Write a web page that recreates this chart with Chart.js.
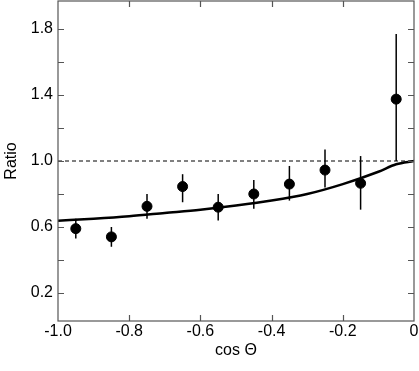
<!DOCTYPE html>
<html>
<head>
<meta charset="utf-8">
<script src="https://cdn.jsdelivr.net/npm/chart.js@4/dist/chart.umd.min.js"></script>
<style>
  html, body { margin: 0; padding: 0; background: #fff; }
  #wrap { width: 419px; height: 371px; }
</style>
</head>
<body>
<div id="wrap"><canvas id="ratioChart"></canvas></div>
<script>
// Measured ratio vs cos(Theta)
const cosTheta = [-0.95, -0.85, -0.75, -0.65, -0.55, -0.45, -0.35, -0.25, -0.15, -0.05];
const ratio    = [0.59, 0.54, 0.725, 0.845, 0.72, 0.80, 0.86, 0.945, 0.865, 1.375];
const errLow   = [0.53, 0.48, 0.65, 0.75, 0.64, 0.71, 0.76, 0.84, 0.705, 1.00];
const errHigh  = [0.65, 0.60, 0.80, 0.92, 0.80, 0.885, 0.97, 1.07, 1.03, 1.77];

// Theory curve
const curveX = [-1.0, -0.9, -0.8, -0.7, -0.6, -0.5, -0.4, -0.3, -0.2, -0.1, -0.05, 0];
const curveY = [0.638, 0.650, 0.665, 0.685, 0.705, 0.73, 0.76, 0.80, 0.86, 0.935, 0.98, 1.0];

// Reference line
const refX = [-1.0, 0];
const refY = [1.0, 1.0];

// Ticks
const xTicks = [-1.0, -0.8, -0.6, -0.4, -0.2, 0];
const xTickLabels = ["-1.0", "-0.8", "-0.6", "-0.4", "-0.2", "0"];
const yTicks = [0.2, 0.4, 0.6, 0.8, 1.0, 1.2, 1.4, 1.6, 1.8];
const yTickLabels = ["0.2", "", "0.6", "", "1.0", "", "1.4", "", "1.8"];

const FONT = { family: "'Liberation Sans', Arial, Helvetica, sans-serif", size: 16 };
const FRAME = "#555";

const errorBars = {
	id: "errorBars",
	beforeDatasetsDraw(chart) {
		const { ctx, scales: { x, y } } = chart;
		ctx.save();
		ctx.strokeStyle = "#000";
		ctx.lineWidth = 1.5;
		cosTheta.forEach((c, i) => {
			const px = x.getPixelForValue(c);
			ctx.beginPath();
			ctx.moveTo(px, y.getPixelForValue(errLow[i]));
			ctx.lineTo(px, y.getPixelForValue(errHigh[i]));
			ctx.stroke();
		});
		ctx.restore();
	},
};

// frame and inward tick marks on all four sides
const frame = {
	id: "frame",
	afterDraw(chart) {
		const { ctx, chartArea: a, scales: { x, y } } = chart;
		ctx.save();
		ctx.strokeStyle = FRAME;
		ctx.lineWidth = 1.2;
		ctx.strokeRect(a.left, a.top, a.right - a.left, a.bottom - a.top);
		const len = 6;
		ctx.beginPath();
		xTicks.slice(1, -1).forEach((v) => {
			const px = Math.round(x.getPixelForValue(v)) + 0.5;
			ctx.moveTo(px, a.bottom); ctx.lineTo(px, a.bottom - len);
			ctx.moveTo(px, a.top); ctx.lineTo(px, a.top + len);
		});
		yTicks.forEach((v) => {
			const py = Math.round(y.getPixelForValue(v)) + 0.5;
			ctx.moveTo(a.left, py); ctx.lineTo(a.left + len, py);
			ctx.moveTo(a.right, py); ctx.lineTo(a.right - len, py);
		});
		ctx.stroke();
		ctx.restore();
	},
};

const ctx = document.getElementById("ratioChart");
new Chart(ctx, {
	type: "scatter",
	data: {
		datasets: [
			{
				label: "Data",
				data: cosTheta.map((c, i) => ({ x: c, y: ratio[i] })),
				backgroundColor: "#000",
				borderColor: "#000",
				pointRadius: 5,
				order: 0,
			},
			{
				label: "Theory",
				data: curveX.map((c, i) => ({ x: c, y: curveY[i] })),
				showLine: true,
				borderColor: "#000",
				borderWidth: 2.5,
				pointRadius: 0,
				cubicInterpolationMode: "monotone",
				order: 1,
			},
			{
				label: "Unity",
				data: refX.map((c, i) => ({ x: c, y: refY[i] })),
				showLine: true,
				borderColor: "#000",
				borderWidth: 1,
				borderDash: [4, 3],
				pointRadius: 0,
				order: 2,
			},
		],
	},
	options: {
		responsive: true,
		maintainAspectRatio: false,
		animation: false,
		layout: { autoPadding: false, padding: { top: 1, right: 5, left: 0, bottom: 0 } },
		plugins: {
			legend: { display: false },
			tooltip: { enabled: false },
		},
		scales: {
			x: {
				type: "linear",
				min: -1.0,
				max: 0,
				afterBuildTicks: (s) => { s.ticks = xTicks.map((v) => ({ value: v })); },
				afterFit: (s) => { s.height = 50; s.paddingLeft = 0; s.paddingRight = 0; },
				grid: { display: false, drawTicks: false },
				border: { display: false },
				ticks: {
					color: "#000",
					font: FONT,
					padding: 1,
					maxRotation: 0,
					autoSkip: false,
					callback: (v, i) => xTickLabels[i],
				},
				title: {
					display: true,
					text: "cos Θ",
					color: "#000",
					font: FONT,
					padding: { top: 0, bottom: 11 },
				},
			},
			y: {
				type: "linear",
				min: 0.03,
				max: 1.97,
				afterBuildTicks: (s) => { s.ticks = yTicks.map((v) => ({ value: v })); },
				afterFit: (s) => { s.width = 58; s.paddingTop = 0; s.paddingBottom = 0; },
				grid: { display: false, drawTicks: false },
				border: { display: false },
				ticks: {
					color: "#000",
					font: FONT,
					padding: 5,
					autoSkip: false,
					callback: (v, i) => yTickLabels[i],
				},
				title: {
					display: true,
					text: "Ratio",
					color: "#000",
					font: FONT,
					padding: { top: 1.5, bottom: 0 },
				},
			},
		},
	},
	plugins: [errorBars, frame],
});
</script>
</body>
</html>
